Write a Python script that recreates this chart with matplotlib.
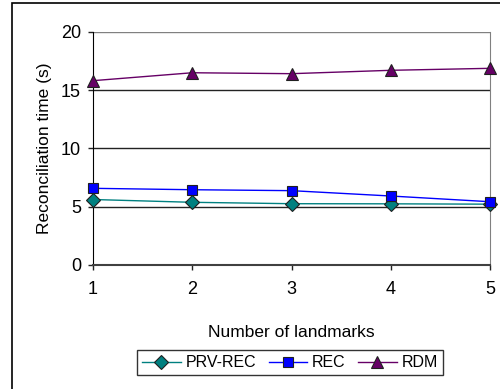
import matplotlib.pyplot as plt
from matplotlib.patches import Rectangle

plt.rcParams["font.family"] = ["Liberation Sans", "DejaVu Sans"]

landmarks = [1, 2, 3, 4, 5]
prv_rec = [5.62, 5.38, 5.26, 5.25, 5.22]
rec = [6.58, 6.46, 6.38, 5.92, 5.43]
rdm = [15.82, 16.5, 16.42, 16.71, 16.88]
y_ticks = [0, 5, 10, 15, 20]

fig = plt.figure(figsize=(5, 3.89), dpi=100)
ax = fig.add_axes([0.186, 0.3188, 0.794, 0.599])

# outer chart frame
fig.patches.append(Rectangle((12 / 500, -0.1), 1.2, 1 - 3 / 389 + 0.1,
                             transform=fig.transFigure, fill=False,
                             edgecolor="black", linewidth=1.2))

for y in y_ticks[1:]:
    ax.axhline(y, color="#222222" if y < 20 else "#808080", linewidth=1.0, zorder=1)

ax.plot(landmarks, prv_rec, color="#008080", marker="D", markersize=7,
        markerfacecolor="#008080", markeredgecolor="#202020", markeredgewidth=0.8,
        linewidth=1.0, label="PRV-REC", clip_on=False, zorder=3)
ax.plot(landmarks, rec, color="#0000FF", marker="s", markersize=7.5,
        markerfacecolor="#0000FF", markeredgecolor="#202020", markeredgewidth=0.8,
        linewidth=1.0, label="REC", clip_on=False, zorder=3)
ax.plot(landmarks, rdm, color="#660066", marker="^", markersize=8.5,
        markerfacecolor="#660066", markeredgecolor="#202020", markeredgewidth=0.8,
        linewidth=1.0, label="RDM", clip_on=False, zorder=3)

ax.set_xlim(1, 5)
ax.set_ylim(0, 20)
ax.set_xticks(landmarks)
ax.set_yticks(y_ticks)
ax.tick_params(axis="both", labelsize=13, length=3.6, width=1, colors="#222222",
               labelcolor="black")
ax.tick_params(axis="x", pad=8)
ax.tick_params(axis="y", pad=5)

ax.spines["right"].set_color("#808080")
ax.spines["top"].set_visible(False)
ax.spines["left"].set_color("black")
ax.spines["bottom"].set_color("#404040")
ax.spines["bottom"].set_linewidth(1.5)

ax.set_xlabel("Number of landmarks", fontsize=12.5, va="center")
ax.set_ylabel("Reconciliation time (s)", fontsize=12.5, va="center")
ax.xaxis.set_label_coords(0.5, -0.2876)
ax.yaxis.set_label_coords(-0.123, 0.5)

leg = fig.legend(loc="lower center", bbox_to_anchor=(0.58, 0.0154), ncol=3,
                 fontsize=11.5, frameon=True, fancybox=False, handlelength=2.4,
                 columnspacing=0.8, handletextpad=0.3, borderpad=0.3)
leg.get_frame().set_edgecolor("black")
leg.get_frame().set_linewidth(1.0)

fig.savefig("out.png", dpi=100)
